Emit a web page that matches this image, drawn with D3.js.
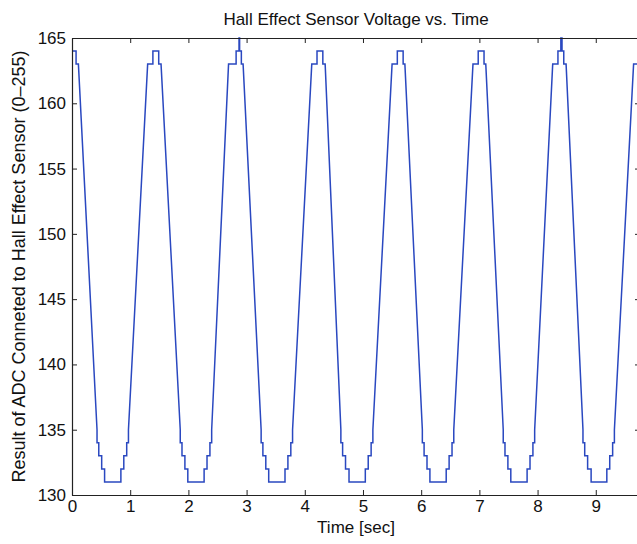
<!DOCTYPE html>
<html>
<head>
<meta charset="utf-8">
<script src="https://cdn.jsdelivr.net/npm/d3@7"></script>
<style>
  body { margin: 0; background: #fff; }
  text { font-family: "Liberation Sans", Arial, Helvetica, sans-serif; fill: #111; }
</style>
</head>
<body>
<svg id="chart" width="637" height="544"></svg>
<script>
// Vertices of the quantized ADC trace
const timeSec = [
  0.00, 0.07, 0.07, 0.11,
  0.43, 0.43, 0.46, 0.46, 0.51, 0.51, 0.56, 0.56, 0.84, 0.84, 0.89, 0.89, 0.94, 0.94, 0.97, 0.97,
  1.30, 1.39, 1.39, 1.49, 1.49, 1.53,
  1.86, 1.86, 1.89, 1.89, 1.94, 1.94, 1.99, 1.99, 2.27, 2.27, 2.32, 2.32, 2.37, 2.37, 2.40, 2.40,
  2.69, 2.82, 2.82, 2.87, 2.87, 2.88, 2.88, 2.91, 2.91, 2.94,
  3.25, 3.25, 3.28, 3.28, 3.33, 3.33, 3.38, 3.38, 3.66, 3.66, 3.71, 3.71, 3.76, 3.76, 3.79, 3.79,
  4.12, 4.21, 4.21, 4.31, 4.31, 4.35,
  4.62, 4.62, 4.65, 4.65, 4.70, 4.70, 4.76, 4.76, 5.04, 5.04, 5.09, 5.09, 5.14, 5.14, 5.17, 5.17,
  5.50, 5.59, 5.59, 5.69, 5.69, 5.72,
  6.02, 6.02, 6.05, 6.05, 6.10, 6.10, 6.15, 6.15, 6.43, 6.43, 6.48, 6.48, 6.53, 6.53, 6.56, 6.56,
  6.89, 6.98, 6.98, 7.08, 7.08, 7.11,
  7.41, 7.41, 7.44, 7.44, 7.49, 7.49, 7.54, 7.54, 7.82, 7.82, 7.87, 7.87, 7.92, 7.92, 7.95, 7.95,
  8.26, 8.35, 8.35, 8.40, 8.40, 8.42, 8.42, 8.45, 8.45, 8.49,
  8.78, 8.78, 8.81, 8.81, 8.86, 8.86, 8.92, 8.92, 9.19, 9.19, 9.24, 9.24, 9.29, 9.29, 9.32, 9.32,
  9.65, 9.74, 9.74, 9.90
];
const adcValue = [
  164, 164, 163, 163,
  135, 134, 134, 133, 133, 132, 132, 131, 131, 132, 132, 133, 133, 134, 134, 135,
  163, 163, 164, 164, 163, 163,
  135, 134, 134, 133, 133, 132, 132, 131, 131, 132, 132, 133, 133, 134, 134, 135,
  163, 163, 164, 164, 165, 165, 164, 164, 163, 163,
  135, 134, 134, 133, 133, 132, 132, 131, 131, 132, 132, 133, 133, 134, 134, 135,
  163, 163, 164, 164, 163, 163,
  135, 134, 134, 133, 133, 132, 132, 131, 131, 132, 132, 133, 133, 134, 134, 135,
  163, 163, 164, 164, 163, 163,
  135, 134, 134, 133, 133, 132, 132, 131, 131, 132, 132, 133, 133, 134, 134, 135,
  163, 163, 164, 164, 163, 163,
  135, 134, 134, 133, 133, 132, 132, 131, 131, 132, 132, 133, 133, 134, 134, 135,
  163, 163, 164, 164, 165, 165, 164, 164, 163, 163,
  135, 134, 134, 133, 133, 132, 132, 131, 131, 132, 132, 133, 133, 134, 134, 135,
  163, 163, 164, 164
];
const xTicks = [0, 1, 2, 3, 4, 5, 6, 7, 8, 9];
const yTicks = [130, 135, 140, 145, 150, 155, 160, 165];
const xDomain = [0, 9.76];
const yDomain = [130, 165];

function drawChart() {
    const svg = d3.select("#chart");
    const width = +svg.attr("width");
    const height = +svg.attr("height");
    const margin = { top: 38, right: -3, bottom: 49, left: 72 };
    const w = width - margin.left - margin.right;
    const h = height - margin.top - margin.bottom;

    const g = svg.append("g")
        .attr("transform", `translate(${margin.left},${margin.top})`);

    const x = d3.scaleLinear().domain(xDomain).range([0, w]);
    const y = d3.scaleLinear().domain(yDomain).range([h, 0]);

    g.append("clipPath").attr("id", "clip")
        .append("rect").attr("width", w).attr("height", h + 1).attr("y", -1);

    // Trace
    const points = timeSec.map((t, i) => [t, adcValue[i]]);
    g.append("path")
        .datum(points)
        .attr("clip-path", "url(#clip)")
        .attr("fill", "none")
        .attr("stroke", "#2a48c0")
        .attr("stroke-width", 1.5)
        .attr("stroke-linejoin", "miter")
        .attr("d", d3.line().x(d => x(d[0])).y(d => y(d[1])));

    // Axes (MATLAB style: ticks pointing inward on all four sides)
    const styleAxis = sel => {
        sel.selectAll(".domain").attr("stroke", "#222").attr("stroke-width", 1.2);
        sel.selectAll(".tick line").attr("stroke", "#222");
        sel.selectAll(".tick text").attr("font-size", "17px").attr("fill", "#111");
    };

    g.append("g")
        .attr("transform", `translate(0,${h})`)
        .call(d3.axisBottom(x).tickValues(xTicks).tickFormat(d3.format("d"))
            .tickSizeInner(-5).tickSizeOuter(0).tickPadding(5))
        .call(styleAxis);

    g.append("g")
        .call(d3.axisTop(x).tickValues(xTicks).tickFormat("")
            .tickSizeInner(-5).tickSizeOuter(0))
        .call(styleAxis);

    g.append("g")
        .call(d3.axisLeft(y).tickValues(yTicks).tickFormat(d3.format("d"))
            .tickSizeInner(-5).tickSizeOuter(0).tickPadding(6))
        .call(styleAxis);

    g.append("g")
        .attr("transform", `translate(${w},0)`)
        .call(d3.axisRight(y).tickValues(yTicks).tickFormat("")
            .tickSizeInner(-5).tickSizeOuter(0))
        .call(styleAxis);

    // Title and axis labels
    svg.append("text")
        .attr("x", margin.left + w / 2)
        .attr("y", 25)
        .attr("text-anchor", "middle")
        .attr("font-size", "17px")
        .text("Hall Effect Sensor Voltage vs. Time");

    svg.append("text")
        .attr("x", margin.left + w / 2)
        .attr("y", 533)
        .attr("text-anchor", "middle")
        .attr("font-size", "17px")
        .text("Time [sec]");

    svg.append("text")
        .attr("transform", `translate(25,${margin.top + h / 2}) rotate(-90)`)
        .attr("text-anchor", "middle")
        .attr("font-size", "18px")
        .text("Result of ADC Conneted to Hall Effect Sensor (0\u2013255)");
}

drawChart();
</script>
</body>
</html>
